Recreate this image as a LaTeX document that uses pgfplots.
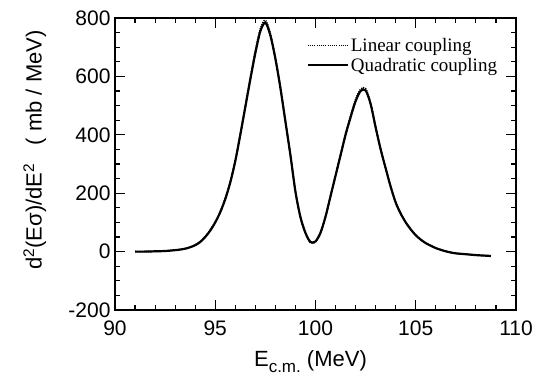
\documentclass[border=0pt]{standalone}
\usepackage{pgfplots}
\pgfplotsset{compat=1.18}
\usepackage{fontspec}
\setmainfont{Liberation Sans}
\newfontfamily\timesfont{Liberation Serif}
\begin{document}
\begin{tikzpicture}
\useasboundingbox (-115pt,-67pt) rectangle (438pt,310pt);
\begin{axis}[
  at={(0pt,0pt)}, anchor=south west,
  scale only axis,
  width=401pt, height=292pt,
  xmin=90, xmax=110, ymin=-200, ymax=800,
  xtick={90,95,100,105,110},
  xticklabels={90,95,100,105,110},
  ytick={-200,0,200,400,600,800},
  yticklabels={-200,0,200,400,600,800},
  minor x tick num=4,
  minor y tick num=3,
  tick align=inside,
  major tick length=10pt,
  minor tick length=5pt,
  every tick/.style={black, line width=1.1pt},
  axis line style={line width=1.6pt},
  /pgf/number format/assume math mode=true,
  tick label style={font=\fontsize{21}{23}\selectfont},
  xticklabel style={yshift=-7pt},
  yticklabel style={xshift=-1pt},
  xlabel={E\raisebox{-0.45ex}{\fontsize{17}{18}\selectfont c.m.} (MeV)},
  xlabel style={font=\fontsize{22}{24}\selectfont, at={(axis description cs:0.4875,-0.195)}, anchor=base},
  ylabel={d\textsuperscript{2}(Eσ)/dE\textsuperscript{2}\ \ \ ( mb / MeV)},
  ylabel style={font=\fontsize{22}{24}\selectfont, at={(axis description cs:-0.2,0.548)}, anchor=center, rotate=0},
  legend style={at={(axis cs:99.55,738)}, anchor=north west, draw=none, fill=none,
    font=\timesfont\fontsize{19}{18}\selectfont, inner sep=0pt, row sep=1pt,
    cells={anchor=west}},
  legend image code/.code={\draw[#1] (0pt,0pt) -- (40pt,0pt);},
  /tikz/every even column/.append style={column sep=1pt},
]
\addplot[black, line width=1.6pt, dash pattern=on 1.1pt off 1.1pt, smooth] coordinates {
(91.0,0) (91.5,0) (92.0,1) (92.5,2) (93.0,5) (93.25,7) (93.5,10) (93.75,15) (94.0,23)
(94.25,34) (94.5,51) (94.75,74) (95.0,102) (95.25,137) (95.5,183) (95.75,240) (96.0,314)
(96.25,404) (96.5,500) (96.75,596) (97.0,688) (97.25,763) (97.5,792) (97.75,746) (98.0,664)
(98.25,563) (98.5,447) (98.75,330) (99.0,205) (99.25,116) (99.5,62) (99.75,30) (100.0,33)
(100.25,62) (100.5,118) (100.75,190) (101.0,262) (101.25,333) (101.5,404) (101.75,465)
(102.0,521) (102.25,556) (102.5,558) (102.75,508) (103.0,427) (103.25,350) (103.5,285)
(103.75,222) (104.0,168) (104.25,130) (104.5,100) (104.75,76) (105.0,56) (105.25,41)
(105.5,29) (105.75,20) (106.0,12) (106.25,6) (106.5,1) (106.75,-3) (107.0,-6) (107.5,-9)
(108.0,-12) (108.5,-14) (108.75,-15)
};
\addlegendentry{Linear coupling}
\addplot[black, line width=2.2pt, smooth] coordinates {
(91.0,0) (91.5,0) (92.0,1) (92.5,2) (93.0,5) (93.25,7) (93.5,10) (93.75,15) (94.0,22)
(94.25,33) (94.5,50) (94.75,72) (95.0,100) (95.25,135) (95.5,180) (95.75,237) (96.0,310)
(96.25,400) (96.5,495) (96.75,590) (97.0,680) (97.25,755) (97.5,784) (97.75,740) (98.0,660)
(98.25,560) (98.5,445) (98.75,330) (99.0,205) (99.25,118) (99.5,64) (99.75,33) (100.0,35)
(100.25,65) (100.5,120) (100.75,190) (101.0,260) (101.25,330) (101.5,400) (101.75,460)
(102.0,515) (102.25,550) (102.5,552) (102.75,505) (103.0,425) (103.25,350) (103.5,285)
(103.75,222) (104.0,168) (104.25,130) (104.5,100) (104.75,76) (105.0,56) (105.25,41)
(105.5,29) (105.75,20) (106.0,12) (106.25,6) (106.5,1) (106.75,-3) (107.0,-6) (107.5,-9)
(108.0,-12) (108.5,-14) (108.75,-15)
};
\addlegendentry{Quadratic coupling}
\end{axis}
\end{tikzpicture}
\end{document}
